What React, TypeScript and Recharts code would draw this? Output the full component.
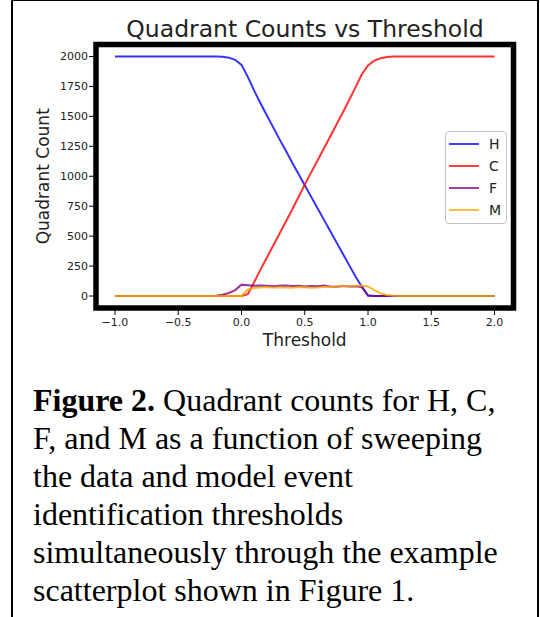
import React from 'react';
import {
    LineChart,
    Line,
    XAxis,
    YAxis,
    Legend,
    Label,
    ReferenceArea
} from 'recharts';

// threshold sweep (x)
const THRESHOLDS = [
    -1.0, -0.95, -0.9, -0.85, -0.8, -0.75, -0.7, -0.65, -0.6, -0.55,
    -0.5, -0.45, -0.4, -0.35, -0.3, -0.25, -0.2, -0.15, -0.1, -0.05,
    0.0, 0.05, 0.1, 0.15, 0.2, 0.25, 0.3, 0.35, 0.4, 0.45,
    0.5, 0.55, 0.6, 0.65, 0.7, 0.75, 0.8, 0.85, 0.9, 0.95,
    1.0, 1.05, 1.1, 1.15, 1.2, 1.25, 1.3, 1.35, 1.4, 1.45,
    1.5, 1.55, 1.6, 1.65, 1.7, 1.75, 1.8, 1.85, 1.9, 1.95,
    2.0,
];

// quadrant counts per threshold
const H_COUNTS = [
    2000, 2000, 2000, 2000, 2000, 2000, 2000, 2000, 2000, 2000,
    2000, 2000, 2000, 2000, 2000, 2000, 2000, 1998, 1990, 1972,
    1930, 1830, 1715, 1610, 1510, 1410, 1310, 1215, 1115, 1020,
    925, 830, 735, 640, 545, 450, 355, 260, 165, 80,
    4, 0, 0, 0, 0, 0, 0, 0, 0, 0,
    0, 0, 0, 0, 0, 0, 0, 0, 0, 0,
    0,
];
const C_COUNTS = [
    0, 0, 0, 0, 0, 0, 0, 0, 0, 0,
    0, 0, 0, 0, 0, 0, 0, 0, 0, 0,
    0, 15, 115, 220, 320, 420, 520, 620, 720, 825,
    930, 1030, 1130, 1230, 1330, 1430, 1530, 1635, 1740, 1850,
    1925, 1965, 1985, 1995, 2000, 2000, 2000, 2000, 2000, 2000,
    2000, 2000, 2000, 2000, 2000, 2000, 2000, 2000, 2000, 2000,
    2000,
];
const F_COUNTS = [
    0, 0, 0, 0, 0, 0, 0, 0, 0, 0,
    0, 0, 0, 0, 0, 0, 2, 10, 25, 50,
    95, 90, 85, 88, 86, 82, 85, 88, 83, 86,
    80, 84, 82, 87, 80, 78, 83, 80, 82, 76,
    4, 0, 0, 0, 0, 0, 0, 0, 0, 0,
    0, 0, 0, 0, 0, 0, 0, 0, 0, 0,
    0,
];
const M_COUNTS = [
    0, 0, 0, 0, 0, 0, 0, 0, 0, 0,
    0, 0, 0, 0, 0, 0, 0, 0, 0, 0,
    0, 55, 68, 72, 75, 70, 74, 72, 70, 75,
    73, 70, 72, 76, 78, 80, 85, 82, 86, 88,
    80, 50, 22, 8, 2, 0, 0, 0, 0, 0,
    0, 0, 0, 0, 0, 0, 0, 0, 0, 0,
    0,
];

const X_TICKS = [-1, -0.5, 0, 0.5, 1, 1.5, 2];
const Y_TICKS = [0, 250, 500, 750, 1000, 1250, 1500, 1750, 2000];

const SERIES = [
    { key: 'H', color: '#0000ff' },
    { key: 'C', color: '#ff0000' },
    { key: 'F', color: '#800080' },
    { key: 'M', color: '#ffa500' },
];

const data = THRESHOLDS.map((t, i) => ({
    t,
    H: H_COUNTS[i],
    C: C_COUNTS[i],
    F: F_COUNTS[i],
    M: M_COUNTS[i],
}));

const MPL_FONT = '"DejaVu Sans", Verdana, sans-serif';

// matplotlib風の凡例
const LegendBox = () => (
    <div style={{
        width: 62,
        height: 93,
        boxSizing: 'border-box',
        border: '1px solid #c4c4c4',
        borderRadius: 4,
        background: 'rgba(255,255,255,0.8)',
        paddingTop: 1,
        fontFamily: MPL_FONT,
        fontSize: 14,
        color: '#222'
    }}>
        {SERIES.map(s => (
            <div key={s.key} style={{ position: 'relative', height: 22 }}>
                <svg width={40} height={22} style={{ position: 'absolute', left: 0, top: 0 }}>
                    <line x1={3} x2={33} y1={11} y2={11} stroke={s.color} strokeOpacity={0.75} strokeWidth={2} />
                </svg>
                <span style={{ position: 'absolute', left: 43, top: 2, lineHeight: '18px' }}>{s.key}</span>
            </div>
        ))}
    </div>
);

const fmtX = (v: number) => v.toFixed(1).replace('-', '\u2212');

export default function App() {
    return (
        <div style={{ position: 'absolute', left: 0, top: 0, width: 540, height: 617, background: '#fff', overflow: 'hidden' }}>
            {/* 外枠 */}
            <div style={{
                position: 'absolute', left: 11, top: 0, width: 528, height: 640,
                boxSizing: 'border-box',
                borderLeft: '2px solid #000', borderRight: '2px solid #000', borderTop: '1px solid #000'
            }} />

            <div style={{
                position: 'absolute', left: 96, top: 16, width: 418, textAlign: 'center',
                fontFamily: MPL_FONT, fontSize: 23.5, lineHeight: '26px', color: '#222'
            }}>
                Quadrant Counts vs Threshold
            </div>

            <div style={{ position: 'absolute', left: 0, top: 0 }}>
                <LineChart width={540} height={360} data={data} margin={{ top: 44.5, right: 26.5, bottom: 0, left: 36 }}>
                    <XAxis
                        dataKey="t"
                        type="number"
                        domain={[-1.15, 2.15]}
                        ticks={X_TICKS}
                        tickFormatter={fmtX}
                        height={52}
                        tickSize={7}
                        tickMargin={3}
                        axisLine={false}
                        tickLine={{ stroke: '#000' }}
                        tick={{ fontSize: 11, fill: '#222', fontFamily: MPL_FONT }}
                    >
                        <Label value="Threshold" position="insideBottom" offset={14} fontSize={17} fill="#222" fontFamily={MPL_FONT} />
                    </XAxis>
                    <YAxis
                        type="number"
                        domain={[-100, 2100]}
                        ticks={Y_TICKS}
                        width={60}
                        tickSize={7}
                        tickMargin={1}
                        axisLine={false}
                        tickLine={{ stroke: '#000' }}
                        tick={{ fontSize: 11, fill: '#222', fontFamily: MPL_FONT }}
                    >
                        <Label
                            value="Quadrant Count"
                            angle={-90}
                            position="insideLeft"
                            offset={7}
                            fontSize={17}
                            fill="#222"
                            fontFamily={MPL_FONT}
                            style={{ textAnchor: 'middle' }}
                        />
                    </YAxis>
                    <ReferenceArea
                        x1={-1.15}
                        x2={2.15}
                        y1={-100}
                        y2={2100}
                        fill="none"
                        stroke="#000"
                        strokeWidth={5.5}
                        ifOverflow="visible"
                    />
                    {SERIES.map(s => (
                        <Line
                            key={s.key}
                            type="linear"
                            dataKey={s.key}
                            stroke={s.color}
                            strokeOpacity={0.8}
                            strokeWidth={2}
                            dot={false}
                            isAnimationActive={false}
                        />
                    ))}
                    {/* align=center + middle なので余白計算に影響しない */}
                    <Legend
                        layout="horizontal"
                        verticalAlign="middle"
                        align="center"
                        content={<LegendBox />}
                        wrapperStyle={{ left: 445, top: 131, width: 62, height: 93 }}
                    />
                </LineChart>
            </div>

            {/* キャプション */}
            <div style={{
                position: 'absolute', left: 33, top: 381, whiteSpace: 'nowrap',
                fontFamily: '"Liberation Serif", "Times New Roman", serif',
                fontSize: 32, lineHeight: '38px', color: '#000'
            }}>
                <b>Figure 2.</b> Quadrant counts for H, C,<br />
                F, and M as a function of sweeping<br />
                the data and model event<br />
                identification thresholds<br />
                simultaneously through the example<br />
                scatterplot shown in Figure 1.
            </div>
        </div>
    );
}
